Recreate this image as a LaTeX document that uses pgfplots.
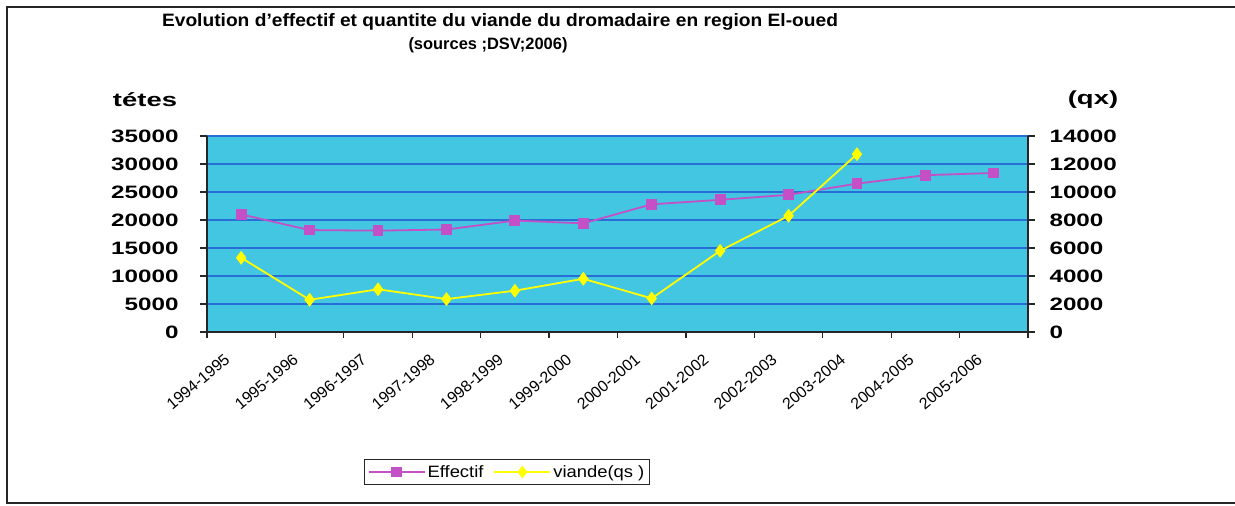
\documentclass[border=0pt]{standalone}
\usepackage{pgfplots}
\pgfplotsset{compat=1.18}
\usepackage{fontspec}
\setmainfont{Liberation Sans}
\definecolor{bgcyan}{RGB}{66,198,226}
\definecolor{gridblue}{RGB}{40,110,215}
\definecolor{effcol}{RGB}{196,80,200}
\definecolor{viacol}{RGB}{255,255,0}
\begin{document}
\begin{tikzpicture}[x=1bp,y=1bp]
\path[use as bounding box] (0,0) rectangle (1235,506);
\draw[line width=1.3bp, black!85] (1235,499) -- (7,499) -- (7,3) -- (1235,3);
\node[font=\bfseries\fontsize{18}{20}\selectfont] at (500,484) {\scalebox{1.07}[1]{Evolution d'effectif et quantite du viande du dromadaire en region El-oued}};
\node[font=\bfseries\fontsize{16.5}{18}\selectfont] at (488,461) {(sources ;DSV;2006)};
\node[font=\bfseries\fontsize{19}{20}\selectfont] at (145,406) {\scalebox{1.45}[1]{tétes}};
\node[font=\bfseries\fontsize{19}{20}\selectfont] at (1093,406) {\scalebox{1.45}[1]{(qx)}};

\begin{axis}[at={(207bp,174bp)}, anchor=south west, scale only axis,
  width=821bp, height=196bp,
  xmin=-0.5, xmax=11.5, ymin=0, ymax=35000,
  ytick={0,5000,...,35000},
  scaled y ticks=false,
  /pgf/number format/1000 sep={},
  /pgf/number format/assume math mode=true,
  axis background/.style={fill=bgcyan},
  ymajorgrids, grid style={gridblue, line width=1.6bp},
  axis y line*=left, axis x line*=bottom,
  axis line style={black!85, line width=1.3bp},
  tick align=outside,
  major tick length=7bp, minor tick length=6bp,
  ytick style={black!85, line width=1.3bp},
  major x tick style={draw=none},
  minor x tick style={black!85, line width=1.3bp},
  xtick={0,...,11},
  minor xtick={-0.5,0.5,...,11.5},
  xticklabels={1994-1995,1995-1996,1996-1997,1997-1998,1998-1999,1999-2000,2000-2001,2001-2002,2002-2003,2003-2004,2004-2005,2005-2006},
  x tick label style={rotate=40, anchor=east, font=\fontsize{16}{16}\selectfont, xshift=-19bp, yshift=-5bp},
  yticklabel={\scalebox{1.35}[1]{\pgfmathprintnumber{\tick}}},
  y tick label style={font=\bfseries\fontsize{18}{18}\selectfont},
  yticklabel style={xshift=-18bp},
  legend style={at={(0.3655,-0.7145)}, anchor=center, draw=black!85, line width=1.2bp,
    font=\fontsize{16.5}{18}\selectfont, inner sep=3.5bp},
  legend columns=2,
  legend image code/.code={\draw[mark repeat=2,mark phase=2] plot coordinates {(0bp,0bp) (28bp,0bp) (56bp,0bp)};},
  /tikz/every even column/.append style={column sep=8bp},
]
\addplot[effcol, line width=1.8bp, mark=square*, mark size=4.5bp, mark options={fill=effcol, draw=effcol}]
  coordinates {(0,21000) (1,18200) (2,18100) (3,18300) (4,19900) (5,19400) (6,22800) (7,23600) (8,24500) (9,26500) (10,28000) (11,28400)};
\addlegendentry{\scalebox{1.12}[1]{Effectif}}
\addlegendimage{viacol, line width=1.8bp, mark=diamond*, mark size=5bp, mark options={fill=viacol, draw=viacol}}
\addlegendentry{\scalebox{1.12}[1]{viande(qs )}}
\end{axis}

\begin{axis}[at={(207bp,174bp)}, anchor=south west, scale only axis,
  width=821bp, height=196bp,
  xmin=-0.5, xmax=11.5, ymin=0, ymax=14000,
  ytick={0,2000,...,14000},
  scaled y ticks=false,
  /pgf/number format/1000 sep={},
  /pgf/number format/assume math mode=true,
  axis y line*=right, axis x line=none,
  axis line style={black!85, line width=1.3bp},
  tick align=outside, major tick length=7bp,
  ytick style={black!85, line width=1.3bp},
  yticklabel={\scalebox{1.35}[1]{\pgfmathprintnumber{\tick}}},
  y tick label style={font=\bfseries\fontsize{18}{18}\selectfont},
  yticklabel style={xshift=11bp},
]
\addplot[viacol, line width=1.8bp, mark=diamond*, mark size=5.5bp, mark options={fill=viacol, draw=viacol}]
  coordinates {(0,5300) (1,2300) (2,3050) (3,2350) (4,2950) (5,3800) (6,2400) (7,5800) (8,8300) (9,12700)};
\end{axis}
\end{tikzpicture}
\end{document}
